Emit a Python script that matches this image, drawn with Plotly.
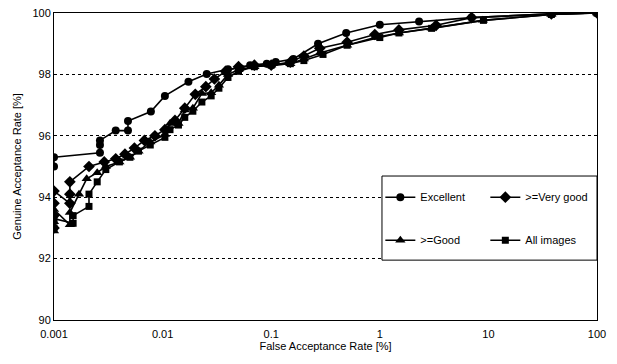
import plotly.graph_objects as go

# ---- data (FAR in %, GAR in %) ----
exc_x = [0.001, 0.001, 0.00265, 0.00265, 0.00265, 0.0037, 0.0048, 0.0048, 0.0078, 0.0105,
         0.0173, 0.0255, 0.040, 0.052, 0.064, 0.091, 0.11, 0.16, 0.27, 0.49, 1.0, 2.3, 7.0, 38, 100]
exc_y = [95.0, 95.3, 95.45, 95.7, 95.85, 96.17, 96.17, 96.48, 96.79, 97.3,
         97.76, 98.01, 98.17, 98.2, 98.3, 98.35, 98.4, 98.5, 99.0, 99.35, 99.62, 99.72, 99.85, 99.97, 100]

vg_x = [0.001, 0.001, 0.001, 0.001, 0.0014, 0.0014, 0.0014, 0.0021, 0.0029, 0.0037, 0.0045, 0.0055,
        0.0068, 0.0085, 0.0105, 0.013, 0.016, 0.02, 0.025, 0.03, 0.038, 0.05, 0.07, 0.1, 0.15, 0.2,
        0.28, 0.5, 0.9, 1.5, 3.3, 7.0, 38, 100]
vg_y = [93.0, 93.4, 93.8, 94.2, 93.8, 94.1, 94.5, 95.0, 95.15, 95.25, 95.4, 95.6,
        95.85, 96.0, 96.2, 96.5, 96.9, 97.35, 97.6, 97.85, 98.1, 98.25, 98.3, 98.3, 98.4, 98.6,
        98.85, 99.05, 99.3, 99.45, 99.6, 99.85, 99.97, 100]

good_x = [0.001, 0.001, 0.001, 0.0014, 0.0014, 0.0017, 0.002, 0.0025, 0.003, 0.004, 0.005, 0.006,
          0.0077, 0.0105, 0.0117, 0.014, 0.016, 0.019, 0.023, 0.028, 0.033, 0.04, 0.05, 0.07, 0.1,
          0.15, 0.2, 0.28, 0.5, 0.9, 1.5, 3.0, 8.9, 38, 100]
good_y = [92.9, 93.2, 93.6, 93.1, 93.5, 94.1, 94.6, 94.8, 95.0, 95.15, 95.3, 95.5,
          95.8, 96.04, 96.4, 96.4, 96.84, 96.9, 97.38, 97.4, 97.65, 98.0, 98.15, 98.25, 98.3,
          98.35, 98.5, 98.7, 98.95, 99.2, 99.35, 99.5, 99.76, 99.95, 100]

all_x = [0.001, 0.001, 0.0015, 0.0015, 0.0021, 0.0021, 0.0025, 0.003, 0.004, 0.005, 0.006, 0.0077,
         0.0105, 0.0117, 0.014, 0.016, 0.019, 0.023, 0.028, 0.033, 0.04, 0.05, 0.07, 0.1, 0.15,
         0.2, 0.3, 0.5, 1.0, 1.5, 3.0, 9, 38, 100]
all_y = [93.0, 93.3, 93.15, 93.4, 93.7, 94.1, 94.5, 94.9, 95.15, 95.3, 95.5, 95.7,
         95.95, 96.2, 96.35, 96.6, 96.8, 97.1, 97.3, 97.55, 97.9, 98.1, 98.25, 98.3, 98.35,
         98.45, 98.65, 98.95, 99.2, 99.35, 99.5, 99.76, 99.95, 100]

x_ticks = [0.001, 0.01, 0.1, 1, 10, 100]
x_tick_text = ["0.001", "0.01", "0.1", "1", "10", "100"]
y_ticks = [90, 92, 94, 96, 98, 100]

FONT = "Liberation Sans, Arial, sans-serif"

series = [
    ("Excellent", exc_x, exc_y, "circle", 8, "legend"),
    (">=Very good", vg_x, vg_y, "diamond", 9, "legend"),
    (">=Good", good_x, good_y, "triangle-up", 9, "legend2"),
    ("All images", all_x, all_y, "square", 7, "legend2"),
]

fig = go.Figure()
for name, xs, ys, sym, sz, lg in series:
    fig.add_trace(go.Scatter(
        x=xs, y=ys, name=name, mode="lines+markers",
        line=dict(color="black", width=1.6),
        marker=dict(symbol=sym, size=sz, color="black"),
        legend=lg,
    ))

# plot area spans y = 13 .. 320 px
# legend box
fig.add_shape(type="rect", xref="paper", yref="paper",
              x0=0.604, x1=1.0, y0=0.195, y1=0.469,
              line=dict(color="black", width=1), fillcolor="white", layer="above")

legend_common = dict(
    orientation="h", xanchor="left", yanchor="middle",
    bgcolor="rgba(0,0,0,0)", borderwidth=0,
    font=dict(family=FONT, size=11, color="black"),
    entrywidth=60, entrywidthmode="pixels", itemwidth=30,
)

fig.update_layout(
    width=617, height=364,
    margin=dict(l=54, r=20, t=13, b=44, autoexpand=False),
    paper_bgcolor="white", plot_bgcolor="white",
    font=dict(family=FONT, size=11, color="black"),
    showlegend=True,
    legend=dict(x=0.601, y=0.40, **legend_common),
    legend2=dict(x=0.601, y=0.26, **legend_common),
    xaxis=dict(
        type="log", range=[-3, 2], automargin=False,
        tickvals=x_ticks, ticktext=x_tick_text,
        showgrid=False, zeroline=False,
        showline=True, linecolor="black", linewidth=1, mirror=True,
        ticks="", ticklabelstandoff=4, tickfont=dict(family=FONT, size=11),
        title=dict(text="False Acceptance Rate [%]", font=dict(family=FONT, size=11), standoff=2),
    ),
    yaxis=dict(
        range=[90, 100], tickvals=y_ticks, automargin=False,
        showgrid=True, gridcolor="black", gridwidth=1, griddash="dot",
        zeroline=False,
        showline=True, linecolor="black", linewidth=1, mirror=True,
        ticks="", tickfont=dict(family=FONT, size=11),
        title=dict(text="Genuine Acceptance Rate [%]", font=dict(family=FONT, size=11), standoff=8),
    ),
)

fig.write_html("out.html", config={"displayModeBar": False},
               post_script="document.body.style.margin='0px';")
